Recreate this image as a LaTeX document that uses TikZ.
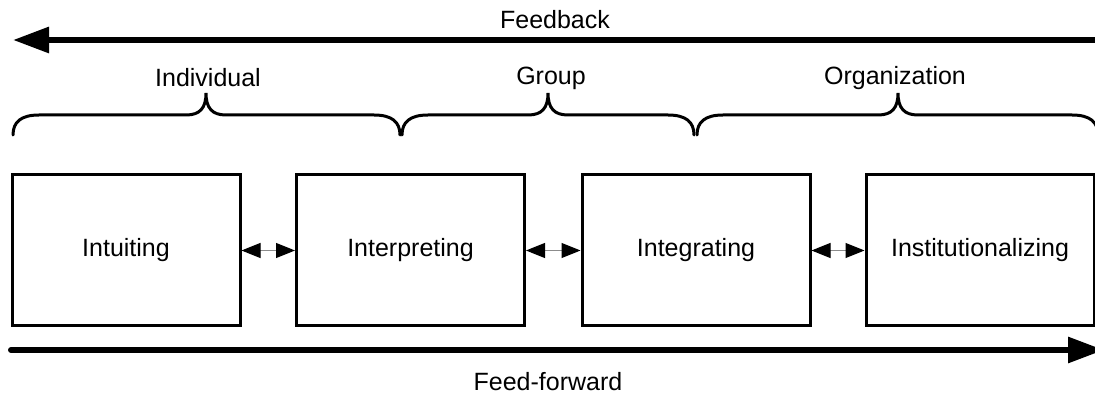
\documentclass[tikz,border=0pt]{standalone}
\usepackage{fontspec}
\setmainfont{Liberation Sans}
\usetikzlibrary{arrows.meta}
\begin{document}
\begin{tikzpicture}[x=1pt,y=-1pt,
  every node/.style={font=\fontsize{25}{30}\selectfont, inner sep=0pt},
  stagebox/.style={draw, line width=3pt, minimum width=228pt, minimum height=151pt},
  flowarrow/.style={line width=6pt, -{Triangle[length=36pt,width=25pt]}},
  linkarrow/.style={draw=black!45, line width=1pt,
    {Triangle[length=19pt,width=15pt,color=black]}-{Triangle[length=19pt,width=15pt,color=black]}},
  bracestroke/.style={line width=3pt, line cap=round}]
  \useasboundingbox (0,0) rectangle (1095,395);
  \clip (0,0) rectangle (1095,395);

  % feedback and feed-forward flows
  \coordinate (fbR) at (1100,40);
  \coordinate (fbL) at (13,40);
  \draw[flowarrow] (fbR) -- (fbL);
  \node (fb) at (555,20) {Feedback};

  \coordinate (ffL) at (11,350);
  \coordinate (ffR) at (1104,350);
  \draw[flowarrow, line cap=round] (ffL) -- (ffR);
  \node (ff) at (548,382) {Feed-forward};

  % level braces
  \foreach \xa/\xm/\xb in {13/206/400, 402/548/694, 697/898/1098}{
    \draw[bracestroke] (\xa,135) .. controls (\xa,122) and (\xa+8,115) .. (\xa+26,115)
      -- (\xm-20,115) .. controls (\xm-6,115) and (\xm,108) .. (\xm,93)
      .. controls (\xm,108) and (\xm+6,115) .. (\xm+20,115)
      -- (\xb-26,115) .. controls (\xb-8,115) and (\xb,122) .. (\xb,135);
  }
  \node (lvl1) at (208,78) {Individual};
  \node (lvl2) at (551,78) {Group};
  \node (lvl3) at (895,78) {Organization};

  % the four processes
  \node[stagebox] (b1) at (126,250.5) {Intuiting};
  \node[stagebox] (b2) at (410.5,250.5) {Interpreting};
  \node[stagebox] (b3) at (696,250.5) {Integrating};
  \node[stagebox] (b4) at (980,250.5) {Institutionalizing};

  \draw[linkarrow] (b1) -- (b2);
  \draw[linkarrow] (b2) -- (b3);
  \draw[linkarrow] (b3) -- (b4);
\end{tikzpicture}
\end{document}
